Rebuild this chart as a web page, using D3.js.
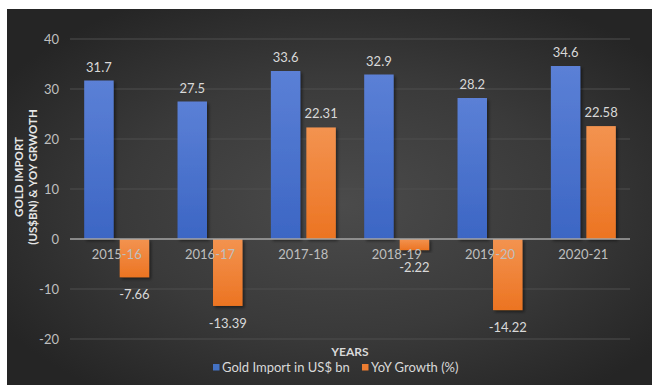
<!DOCTYPE html>
<html>
<head>
<meta charset="utf-8">
<script src="https://cdn.jsdelivr.net/npm/d3@7"></script>
<style>
  html, body { margin: 0; padding: 0; background: #ffffff; }
  svg { display: block; }
  text { font-family: Lato, "Open Sans", sans-serif; }
</style>
</head>
<body>
<svg id="chart" width="654" height="385"></svg>
<script>
// Fiscal years and the two series plotted per year
const years = ["2015-16", "2016-17", "2017-18", "2018-19", "2019-20", "2020-21"];
const seriesNames = ["Gold Import in US$ bn", "YoY Growth (%)"];
const goldImport = [31.7, 27.5, 33.6, 32.9, 28.2, 34.6];
const yoyGrowth = [-7.66, -13.39, 22.31, -2.22, -14.22, 22.58];
const yTicks = [-20, -10, 0, 10, 20, 30, 40];

const svg = d3.select("#chart");
const defs = svg.append("defs");

// Dark card background with a lighter centre
const bg = defs.append("radialGradient").attr("id", "bgGrad")
  .attr("cx", "52%").attr("cy", "52%").attr("r", "62%");
bg.append("stop").attr("offset", "0%").attr("stop-color", "#4b4b4b");
bg.append("stop").attr("offset", "55%").attr("stop-color", "#3a3a3a");
bg.append("stop").attr("offset", "100%").attr("stop-color", "#252525");

const blueGrad = defs.append("linearGradient").attr("id", "blueGrad")
  .attr("x1", 0).attr("y1", 0).attr("x2", 0).attr("y2", 1);
blueGrad.append("stop").attr("offset", "0%").attr("stop-color", "#5b80d6");
blueGrad.append("stop").attr("offset", "100%").attr("stop-color", "#3c66c4");

const orangeGrad = defs.append("linearGradient").attr("id", "orangeGrad")
  .attr("x1", 0).attr("y1", 0).attr("x2", 0).attr("y2", 1);
orangeGrad.append("stop").attr("offset", "0%").attr("stop-color", "#f39350");
orangeGrad.append("stop").attr("offset", "100%").attr("stop-color", "#ec7422");

const shadow = defs.append("filter").attr("id", "barShadow")
  .attr("x", "-20%").attr("y", "-10%").attr("width", "150%").attr("height", "130%");
shadow.append("feDropShadow").attr("dx", 2).attr("dy", 2).attr("stdDeviation", 1.5)
  .attr("flood-color", "#000").attr("flood-opacity", 0.45);

svg.append("rect").attr("x", 7).attr("y", 9).attr("width", 645).attr("height", 376)
  .attr("fill", "url(#bgGrad)");

// Scales
const plot = { left: 70, right: 630 };
const x0 = d3.scaleBand().domain(years).range([plot.left, plot.right]).paddingInner(0).paddingOuter(0);
const x1 = d3.scaleBand().domain(seriesNames).range([0, x0.bandwidth()])
  .paddingInner(0.17).paddingOuter(0.4);
const y = d3.scaleLinear().domain([-20, 40]).range([339, 39]);

// Gridlines
svg.append("g").selectAll("line").data(yTicks.filter(t => t !== 0)).join("line")
  .attr("x1", plot.left).attr("x2", plot.right)
  .attr("y1", d => y(d)).attr("y2", d => y(d))
  .attr("stroke", "#4f4f4f").attr("stroke-width", 1);

// Y axis tick labels (plain hyphen for negatives)
const yAxis = d3.axisLeft(y).tickValues(yTicks).tickFormat(d => String(d))
  .tickSize(0).tickPadding(0);
const yG = svg.append("g").attr("transform", "translate(59,0)").call(yAxis);
yG.select(".domain").remove();
yG.selectAll("text").attr("fill", "#bfbfbf").attr("font-size", 13)
  .attr("font-family", "Lato, 'Open Sans', sans-serif");

// Bars
const rows = years.map((yr, i) => ({ year: yr, values: [goldImport[i], yoyGrowth[i]] }));
const fills = ["url(#blueGrad)", "url(#orangeGrad)"];

const groups = svg.append("g").selectAll("g").data(rows).join("g")
  .attr("transform", d => `translate(${x0(d.year)},0)`);

groups.selectAll("rect").data(d => d.values.map((v, k) => ({ v, k }))).join("rect")
  .attr("x", d => x1(seriesNames[d.k]))
  .attr("width", x1.bandwidth())
  .attr("y", d => y(Math.max(0, d.v)))
  .attr("height", d => Math.abs(y(d.v) - y(0)))
  .attr("fill", d => fills[d.k])
  .attr("filter", "url(#barShadow)");

// Zero line
svg.append("line").attr("x1", plot.left).attr("x2", plot.right)
  .attr("y1", y(0)).attr("y2", y(0))
  .attr("stroke", "#a6a6a6").attr("stroke-width", 1.5);

// Category labels
const xAxis = d3.axisBottom(x0).tickSize(0).tickPadding(0);
const xG = svg.append("g").attr("transform", `translate(0,${y(0) + 11})`).call(xAxis);
xG.select(".domain").remove();
xG.selectAll("text").attr("fill", "#bfbfbf").attr("font-size", 13)
  .attr("font-family", "Lato, 'Open Sans', sans-serif");

// Value labels
groups.selectAll("text.val").data(d => d.values.map((v, k) => ({ v, k }))).join("text")
  .attr("class", "val")
  .attr("x", d => x1(seriesNames[d.k]) + x1.bandwidth() / 2)
  .attr("y", d => d.v >= 0 ? y(d.v) - 9 : y(d.v) + 22)
  .attr("text-anchor", "middle")
  .attr("fill", "#d9d9d9").attr("font-size", 13)
  .text(d => d.v);

// Axis titles
svg.append("text")
  .attr("transform", "translate(23,177) rotate(-90)")
  .attr("text-anchor", "middle").attr("font-weight", "bold")
  .attr("font-size", 11.5).attr("fill", "#e6e6e6")
  .text("GOLD IMPORT");
svg.append("text")
  .attr("transform", "translate(37,177) rotate(-90)")
  .attr("text-anchor", "middle").attr("font-weight", "bold")
  .attr("font-size", 11.5).attr("fill", "#e6e6e6")
  .text("(US$BN) & YOY GRWOTH");

svg.append("text").attr("x", 350).attr("y", 356)
  .attr("text-anchor", "middle").attr("font-weight", "bold")
  .attr("font-size", 12).attr("fill", "#d9d9d9")
  .text("YEARS");

// Legend
const legendColors = ["#4472c4", "#ed7d31"];
const legendX = [213, 362];
const legend = svg.append("g").selectAll("g").data(seriesNames).join("g")
  .attr("transform", (d, i) => `translate(${legendX[i]},364)`);
legend.append("rect").attr("width", 6.5).attr("height", 6.5)
  .attr("fill", (d, i) => legendColors[i]);
legend.append("text").attr("x", 9).attr("y", 8)
  .attr("fill", "#d9d9d9").attr("font-size", 13)
  .text(d => d);
</script>
</body>
</html>
